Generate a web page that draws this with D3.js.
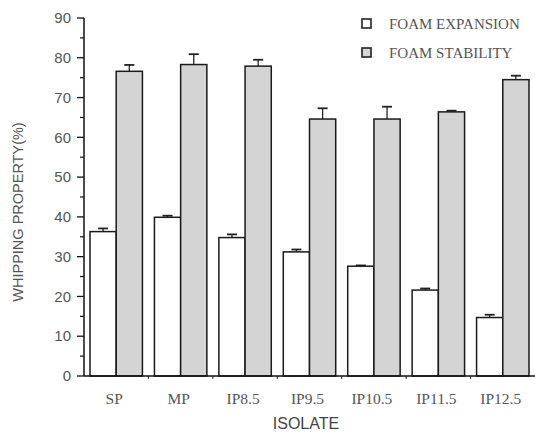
<!DOCTYPE html>
<html>
<head>
<meta charset="utf-8">
<script src="https://cdn.jsdelivr.net/npm/d3@7"></script>
<style>
  body { margin: 0; background: #fff; }
  svg { display: block; }
</style>
</head>
<body>
<div id="chart"></div>
<script>
// data
const isolates = ["SP", "MP", "IP8.5", "IP9.5", "IP10.5", "IP11.5", "IP12.5"];
const seriesNames = ["FOAM EXPANSION", "FOAM STABILITY"];
const expansion = [36.3, 39.9, 34.8, 31.2, 27.6, 21.6, 14.7];
const expansionErr = [0.8, 0.4, 0.8, 0.6, 0.2, 0.4, 0.7];
const stability = [76.6, 78.3, 77.9, 64.6, 64.6, 66.4, 74.5];
const stabilityErr = [1.6, 2.6, 1.6, 2.7, 3.1, 0.3, 1.0];
const yTicks = [0, 10, 20, 30, 40, 50, 60, 70, 80, 90];

const width = 535, height = 433;
const plotLeft = 84, plotRight = 535, plotTop = 18, plotBottom = 376;

const svg = d3.select("#chart").append("svg")
  .attr("width", width)
  .attr("height", height);

const x = d3.scaleBand().domain(isolates).range([plotLeft, plotRight]).paddingInner(0).paddingOuter(0);
const xSub = d3.scaleBand().domain(seriesNames).range([6, x.bandwidth() - 6]);
const y = d3.scaleLinear().domain([0, 90]).range([plotBottom, plotTop]);

const fills = ["#ffffff", "#d4d4d4"];
const values = [expansion, stability];
const errs = [expansionErr, stabilityErr];

// bars + error bars
seriesNames.forEach((s, si) => {
  const g = svg.append("g");
  const rows = isolates.map((c, i) => ({c: c, v: values[si][i], e: errs[si][i]}));

  g.selectAll("line.err")
    .data(rows)
    .enter().append("line")
    .attr("x1", d => x(d.c) + xSub(s) + xSub.bandwidth() / 2)
    .attr("x2", d => x(d.c) + xSub(s) + xSub.bandwidth() / 2)
    .attr("y1", d => y(d.v))
    .attr("y2", d => y(d.v + d.e))
    .attr("stroke", "#222")
    .attr("stroke-width", 1.3);

  g.selectAll("line.cap")
    .data(rows)
    .enter().append("line")
    .attr("x1", d => x(d.c) + xSub(s) + xSub.bandwidth() / 2 - 5)
    .attr("x2", d => x(d.c) + xSub(s) + xSub.bandwidth() / 2 + 5)
    .attr("y1", d => y(d.v + d.e))
    .attr("y2", d => y(d.v + d.e))
    .attr("stroke", "#222")
    .attr("stroke-width", 1.8);

  g.selectAll("rect")
    .data(rows)
    .enter().append("rect")
    .attr("x", d => x(d.c) + xSub(s))
    .attr("y", d => y(d.v))
    .attr("width", xSub.bandwidth())
    .attr("height", d => y(0) - y(d.v))
    .attr("fill", fills[si])
    .attr("stroke", "#1a1a1a")
    .attr("stroke-width", 1.5);
});

// y axis
const yAxis = svg.append("g").attr("transform", `translate(${plotLeft},0)`);
yAxis.append("line")
  .attr("x1", 0).attr("x2", 0)
  .attr("y1", y(90)).attr("y2", y(0))
  .attr("stroke", "#111").attr("stroke-width", 1.5);
yAxis.selectAll("line.major")
  .data(yTicks).enter().append("line")
  .attr("x1", -7).attr("x2", 0)
  .attr("y1", d => y(d)).attr("y2", d => y(d))
  .attr("stroke", "#111").attr("stroke-width", 1.3);
yAxis.selectAll("line.minor")
  .data(yTicks.slice(0, -1).map(d => d + 5)).enter().append("line")
  .attr("x1", -4).attr("x2", 0)
  .attr("y1", d => y(d)).attr("y2", d => y(d))
  .attr("stroke", "#111").attr("stroke-width", 1.2);
yAxis.selectAll("text")
  .data(yTicks).enter().append("text")
  .attr("x", -13)
  .attr("y", d => y(d))
  .attr("dy", "0.35em")
  .attr("text-anchor", "end")
  .attr("font-family", "Liberation Sans, Arial, sans-serif")
  .attr("font-size", 15)
  .attr("fill", "#555")
  .text(d => d);

// x axis
const xAxis = svg.append("g");
xAxis.append("line")
  .attr("x1", plotLeft).attr("x2", plotRight)
  .attr("y1", plotBottom).attr("y2", plotBottom)
  .attr("stroke", "#111").attr("stroke-width", 1.5);
xAxis.selectAll("line.tick")
  .data(isolates.slice(1)).enter().append("line")
  .attr("x1", d => x(d)).attr("x2", d => x(d))
  .attr("y1", plotBottom).attr("y2", plotBottom + 3)
  .attr("stroke", "#222");
xAxis.selectAll("text")
  .data(isolates).enter().append("text")
  .attr("x", d => x(d) + x.bandwidth() / 2 - 2)
  .attr("y", plotBottom + 23)
  .attr("dy", "0.35em")
  .attr("text-anchor", "middle")
  .attr("font-family", "Liberation Serif, Times New Roman, serif")
  .attr("font-size", 15.5)
  .attr("fill", "#555")
  .text(d => d);

// axis titles
svg.append("text")
  .attr("transform", `translate(23,${(plotTop + plotBottom) / 2 + 15}) rotate(-90)`)
  .attr("text-anchor", "middle")
  .attr("font-family", "Liberation Sans, Arial, sans-serif")
  .attr("font-size", 14.5)
  .attr("fill", "#555")
  .text("WHIPPING PROPERTY(%)");
svg.append("text")
  .attr("x", 306)
  .attr("y", 429)
  .attr("text-anchor", "middle")
  .attr("font-family", "Liberation Sans, Arial, sans-serif")
  .attr("font-size", 16)
  .attr("fill", "#444")
  .text("ISOLATE");

// legend
const legend = svg.append("g");
const legendY = [24, 53];
seriesNames.forEach((s, si) => {
  legend.append("rect")
    .attr("x", 362).attr("y", legendY[si] - 5)
    .attr("width", 9).attr("height", 9)
    .attr("fill", fills[si])
    .attr("stroke", "#222").attr("stroke-width", 1.6);
  legend.append("text")
    .attr("x", 389).attr("y", legendY[si])
    .attr("dy", "0.35em")
    .attr("font-family", "Liberation Serif, Times New Roman, serif")
    .attr("font-size", 15)
    .attr("fill", "#555")
    .text(s);
});
</script>
</body>
</html>
